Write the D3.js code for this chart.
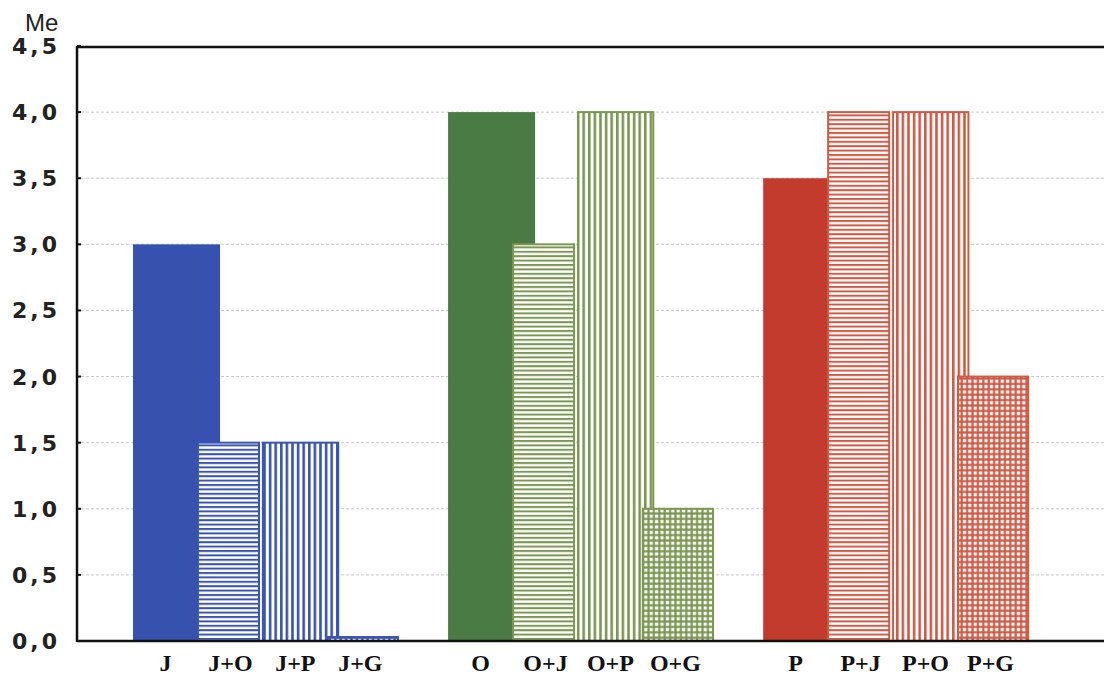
<!DOCTYPE html>
<html>
<head>
<meta charset="utf-8">
<script src="https://cdn.jsdelivr.net/npm/d3@7"></script>
<style>
  body { margin: 0; background: #fff; }
  svg { display: block; }
</style>
</head>
<body>
<svg id="chart" width="1104" height="678"></svg>
<script>
// groups and the four series in each group
const groups = ['J', 'O', 'P'];
const seriesLabels = [
    ['J', 'J+O', 'J+P', 'J+G'],
    ['O', 'O+J', 'O+P', 'O+G'],
    ['P', 'P+J', 'P+O', 'P+G']
];
const values = [
    [3.0, 1.5, 1.5, 0.03],
    [4.0, 3.0, 4.0, 1.0],
    [3.5, 4.0, 4.0, 2.0]
];
const yTicks = [0, 0.5, 1.0, 1.5, 2.0, 2.5, 3.0, 3.5, 4.0, 4.5];

const solidColors = { J: '#3652ae', O: '#4a7b45', P: '#c23b2c' };
const patternColors = { J: '#3a55b0', O: '#7b9852', P: '#d05a46' };
const patternKinds = ['solid', 'hlines', 'vlines', 'grid'];
const widthFactor = [1.34, 0.94, 1.16, 1.08];

const svg = d3.select('#chart');
const width = 1104, height = 678;
const plotLeft = 77, plotTop = 46, plotBottom = 641;

const y = d3.scaleLinear().domain([0, 4.5]).range([plotBottom, plotTop]);

const x0 = d3.scaleBand()
    .domain(groups)
    .range([133, 1031])
    .paddingInner(0.15)
    .paddingOuter(0);

const x1 = d3.scaleBand()
    .domain(d3.range(4))
    .range([0, x0.bandwidth() * 0.97])
    .padding(0);

// patterns
const defs = svg.append('defs');
groups.forEach(g => {
    const c = patternColors[g];
    let p = defs.append('pattern').attr('id', `h-${g}`)
        .attr('patternUnits', 'userSpaceOnUse').attr('width', 6).attr('height', 4.4);
    p.append('rect').attr('width', 6).attr('height', 4.4).attr('fill', '#fff');
    p.append('rect').attr('y', 0).attr('width', 6).attr('height', 2).attr('fill', c);

    p = defs.append('pattern').attr('id', `v-${g}`)
        .attr('patternUnits', 'userSpaceOnUse').attr('width', 5.6).attr('height', 6);
    p.append('rect').attr('width', 5.6).attr('height', 6).attr('fill', '#fff');
    p.append('rect').attr('x', 0).attr('width', 2.6).attr('height', 6).attr('fill', c);

    p = defs.append('pattern').attr('id', `g-${g}`)
        .attr('patternUnits', 'userSpaceOnUse').attr('width', 5.4).attr('height', 5.4);
    p.append('rect').attr('width', 5.4).attr('height', 5.4).attr('fill', c);
    p.append('rect').attr('x', 1.6).attr('y', 1.6).attr('width', 3.2).attr('height', 3.2).attr('fill', '#fff');
});

// gridlines
svg.append('g')
    .selectAll('line')
    .data(yTicks.filter(t => t > 0 && t < 4.5))
    .enter()
    .append('line')
    .attr('x1', plotLeft + 4)
    .attr('x2', width)
    .attr('y1', d => y(d))
    .attr('y2', d => y(d))
    .style('stroke', '#c8c8c8')
    .style('stroke-width', 1)
    .style('stroke-dasharray', '3,2');

// bars
const rows = [];
groups.forEach((g, gi) => {
    values[gi].forEach((v, i) => {
        rows.push({ group: g, i: i, value: v, label: seriesLabels[gi][i] });
    });
});

function fillFor(d) {
    const kind = patternKinds[d.i];
    if (kind === 'solid') return solidColors[d.group];
    if (kind === 'hlines') return `url(#h-${d.group})`;
    if (kind === 'vlines') return `url(#v-${d.group})`;
    return `url(#g-${d.group})`;
}

svg.append('g')
    .selectAll('rect')
    .data(rows)
    .enter()
    .append('rect')
    .attr('x', d => x0(d.group) + x1(d.i))
    .attr('y', d => y(d.value))
    .attr('width', d => x1.bandwidth() * widthFactor[d.i])
    .attr('height', d => y(0) - y(d.value))
    .style('fill', fillFor)
    .style('stroke', d => d.i === 0 ? 'none' : patternColors[d.group])
    .style('stroke-width', 2);

// x labels
svg.append('g')
    .selectAll('text')
    .data(rows)
    .enter()
    .append('text')
    .attr('x', d => x0(d.group) + x1(d.i) + x1.bandwidth() / 2)
    .attr('y', 671)
    .attr('text-anchor', 'middle')
    .style('font-family', '"Liberation Serif", "DejaVu Serif", serif')
    .style('font-weight', 'bold')
    .style('font-size', '24px')
    .style('fill', '#111')
    .text(d => d.label);

// frame: left axis, top and bottom lines
svg.append('line')
    .attr('x1', plotLeft).attr('x2', plotLeft)
    .attr('y1', plotTop).attr('y2', plotBottom + 1)
    .style('stroke', '#111').style('stroke-width', 2.5);
svg.append('line')
    .attr('x1', plotLeft).attr('x2', width)
    .attr('y1', plotTop + 1).attr('y2', plotTop + 1)
    .style('stroke', '#111').style('stroke-width', 2.5);
svg.append('line')
    .attr('x1', plotLeft).attr('x2', width)
    .attr('y1', plotBottom).attr('y2', plotBottom)
    .style('stroke', '#111').style('stroke-width', 2.5);

// y axis ticks and labels
const yAxis = svg.append('g');
yAxis.selectAll('line')
    .data(yTicks)
    .enter()
    .append('line')
    .attr('x1', plotLeft).attr('x2', plotLeft + 4)
    .attr('y1', d => y(d)).attr('y2', d => y(d))
    .style('stroke', '#111').style('stroke-width', 2);

yAxis.selectAll('text')
    .data(yTicks)
    .enter()
    .append('text')
    .attr('x', 60)
    .attr('y', d => y(d) + 8)
    .attr('text-anchor', 'end')
    .style('font-family', '"DejaVu Sans", Verdana, sans-serif')
    .style('font-weight', 'bold')
    .style('font-size', '22px')
    .style('letter-spacing', '3px')
    .style('fill', '#222')
    .text(d => d.toFixed(1).replace('.', ','));

svg.append('text')
    .attr('x', 25)
    .attr('y', 31)
    .style('font-family', '"Liberation Sans", Arial, sans-serif')
    .style('font-size', '24px')
    .style('fill', '#222')
    .text('Me');
</script>
</body>
</html>
